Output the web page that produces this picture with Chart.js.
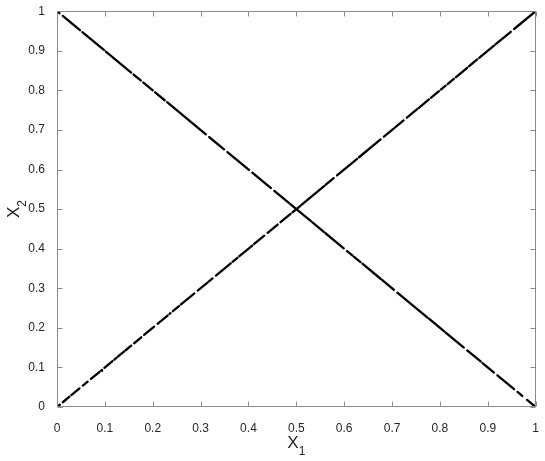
<!DOCTYPE html>
<html>
<head>
<meta charset="utf-8">
<script src="https://cdn.jsdelivr.net/npm/chart.js@4/dist/chart.umd.min.js"></script>
<style>
  html, body { margin: 0; padding: 0; background: #fff; }
  #wrap { width: 545px; height: 461px; }
</style>
</head>
<body>
<div id="wrap"><canvas id="chart" width="545" height="461"></canvas></div>
<script>
// --- DATOS (extremos de cada tramo visible) ---
const xTickValues = [0, 0.1, 0.2, 0.3, 0.4, 0.5, 0.6, 0.7, 0.8, 0.9, 1];
const xTickLabels = ['0', '0.1', '0.2', '0.3', '0.4', '0.5', '0.6', '0.7', '0.8', '0.9', '1'];
const yTickValues = [0, 0.1, 0.2, 0.3, 0.4, 0.5, 0.6, 0.7, 0.8, 0.9, 1];
const yTickLabels = ['0', '0.1', '0.2', '0.3', '0.4', '0.5', '0.6', '0.7', '0.8', '0.9', '1'];

// línea ascendente
const upX = [0, 0.006, 0.012, 0.026, 0.030, 0.047, 0.054, 0.064, 0.071, 0.089, 0.092, 0.094,
  0.099, 0.116, 0.120, 0.124, 0.127, 0.141, 0.144, 0.155, 0.161, 0.176, 0.182, 0.203,
  0.210, 0.231, 0.235, 0.237, 0.242, 0.255, 0.259, 0.287, 0.294, 0.315, 0.318, 0.325,
  0.332, 0.363, 0.367, 0.377, 0.381, 0.408, 0.412, 0.433, 0.440, 0.461, 0.467, 0.488,
  0.492, 0.509, 0.512, 0.558, 0.561, 0.578, 0.585, 0.627, 0.631, 0.676, 0.683, 0.704,
  0.707, 0.724, 0.731, 0.753, 0.756, 0.777, 0.781, 0.798, 0.802, 0.812, 0.816, 0.829,
  0.833, 0.857, 0.861, 0.878, 0.882, 0.913, 0.916, 0.948, 0.955, 1.0];
const upY = [0, 0.006, 0.012, 0.026, 0.030, 0.047, 0.054, 0.064, 0.071, 0.089, 0.092, 0.094,
  0.099, 0.116, 0.120, 0.124, 0.127, 0.141, 0.144, 0.155, 0.161, 0.176, 0.182, 0.203,
  0.210, 0.231, 0.235, 0.237, 0.242, 0.255, 0.259, 0.287, 0.294, 0.315, 0.318, 0.325,
  0.332, 0.363, 0.367, 0.377, 0.381, 0.408, 0.412, 0.433, 0.440, 0.461, 0.467, 0.488,
  0.492, 0.509, 0.512, 0.558, 0.561, 0.578, 0.585, 0.627, 0.631, 0.676, 0.683, 0.704,
  0.707, 0.724, 0.731, 0.753, 0.756, 0.777, 0.781, 0.798, 0.802, 0.812, 0.816, 0.829,
  0.833, 0.857, 0.861, 0.878, 0.882, 0.913, 0.916, 0.948, 0.955, 1.0];

// línea descendente
const downX = [0, 0.005, 0.012, 0.048, 0.053, 0.098, 0.102, 0.155, 0.160, 0.175, 0.180, 0.200,
  0.205, 0.225, 0.230, 0.311, 0.318, 0.349, 0.356, 0.401, 0.408, 0.447, 0.454, 0.485,
  0.488, 0.530, 0.533, 0.558, 0.561, 0.599, 0.606, 0.617, 0.620, 0.634, 0.638, 0.676,
  0.679, 0.704, 0.711, 0.774, 0.777, 0.809, 0.812, 0.850, 0.857, 0.885, 0.889, 0.913,
  0.920, 0.955, 0.962, 0.972, 0.982, 1.0];
const downY = [1, 0.995, 0.988, 0.952, 0.947, 0.902, 0.898, 0.845, 0.840, 0.825, 0.820, 0.800,
  0.795, 0.775, 0.770, 0.689, 0.682, 0.651, 0.644, 0.599, 0.592, 0.553, 0.546, 0.515,
  0.512, 0.470, 0.467, 0.442, 0.439, 0.401, 0.394, 0.383, 0.380, 0.366, 0.362, 0.324,
  0.321, 0.296, 0.289, 0.226, 0.223, 0.191, 0.188, 0.150, 0.143, 0.115, 0.111, 0.087,
  0.080, 0.045, 0.038, 0.028, 0.018, 0];

const FONT = '"Liberation Sans", Arial, Helvetica, sans-serif';
const AXIS_GRAY = '#8a8a8a';
const TEXT_COLOR = '#262626';

function toPoints(xs, ys) {
    return xs.map((x, i) => ({ x, y: ys[i] }));
}

// solo se pintan los tramos pares (inicio -> fin); los impares son huecos
const gapSegment = {
    borderColor: ctx => (ctx.p0DataIndex % 2 === 0 ? '#000' : 'rgba(0,0,0,0)')
};

// --- MARCO, TICKS HACIA DENTRO Y ETIQUETAS DE EJE ---
const framePlugin = {
    id: 'frame',
    afterDraw(chart) {
        const { ctx, chartArea, scales } = chart;
        const l = Math.round(chartArea.left) + 0.5;
        const r = Math.round(chartArea.right) - 0.5;
        const t = Math.round(chartArea.top) + 0.5;
        const b = Math.round(chartArea.bottom) - 0.5;
        const tick = 5;

        ctx.save();
        ctx.strokeStyle = AXIS_GRAY;
        ctx.lineWidth = 1;
        ctx.strokeRect(l, t, r - l, b - t);

        ctx.beginPath();
        xTickValues.forEach(v => {
            const px = Math.round(scales.x.getPixelForValue(v)) + 0.5;
            ctx.moveTo(px, b); ctx.lineTo(px, b - tick);
            ctx.moveTo(px, t); ctx.lineTo(px, t + tick);
        });
        yTickValues.forEach(v => {
            const py = Math.round(scales.y.getPixelForValue(v)) + 0.5;
            ctx.moveTo(l, py); ctx.lineTo(l + tick, py);
            ctx.moveTo(r, py); ctx.lineTo(r - tick, py);
        });
        ctx.stroke();

        // títulos con subíndice
        ctx.fillStyle = TEXT_COLOR;
        ctx.textBaseline = 'alphabetic';
        ctx.textAlign = 'left';
        const big = '17px ' + FONT;
        const small = '12px ' + FONT;

        ctx.font = big;
        const wX = ctx.measureText('X').width;
        ctx.font = small;
        const w1 = ctx.measureText('1').width;
        const cx = (chartArea.left + chartArea.right) / 2;
        let sx = cx - (wX + w1) / 2;
        ctx.font = big;
        ctx.fillText('X', sx, 448);
        ctx.font = small;
        ctx.fillText('1', sx + wX, 455);

        const cy = (chartArea.top + chartArea.bottom) / 2;
        ctx.font = small;
        const w2 = ctx.measureText('2').width;
        ctx.translate(19, cy);
        ctx.rotate(-Math.PI / 2);
        sx = -(wX + w2) / 2;
        ctx.font = big;
        ctx.fillText('X', sx, 0);
        ctx.font = small;
        ctx.fillText('2', sx + wX, 7);
        ctx.restore();
    }
};

new Chart(document.getElementById('chart'), {
    type: 'scatter',
    data: {
        datasets: [
            {
                label: 'up',
                data: toPoints(upX, upY),
                showLine: true,
                borderColor: '#000',
                borderWidth: 2.3,
                borderCapStyle: 'round',
                pointRadius: 0,
                segment: gapSegment
            },
            {
                label: 'down',
                data: toPoints(downX, downY),
                showLine: true,
                borderColor: '#000',
                borderWidth: 2.3,
                borderCapStyle: 'round',
                pointRadius: 0,
                segment: gapSegment
            }
        ]
    },
    options: {
        responsive: false,
        animation: false,
        layout: { padding: { left: 0, top: 7, right: 8, bottom: 0 } },
        plugins: {
            legend: { display: false },
            tooltip: { enabled: false }
        },
        scales: {
            x: {
                type: 'linear',
                min: 0,
                max: 1,
                afterFit: s => { s.height = 54; },
                afterBuildTicks: s => { s.ticks = xTickValues.map(v => ({ value: v })); },
                grid: { display: false },
                border: { display: false },
                ticks: {
                    padding: 6,
                    color: TEXT_COLOR,
                    font: { family: FONT, size: 12 },
                    maxRotation: 0,
                    autoSkip: false,
                    callback: (v, i) => xTickLabels[i]
                }
            },
            y: {
                type: 'linear',
                min: 0,
                max: 1,
                afterFit: s => { s.width = 57; },
                afterBuildTicks: s => { s.ticks = yTickValues.map(v => ({ value: v })); },
                grid: { display: false },
                border: { display: false },
                ticks: {
                    padding: 4,
                    color: TEXT_COLOR,
                    font: { family: FONT, size: 12 },
                    autoSkip: false,
                    callback: (v, i) => yTickLabels[i]
                }
            }
        }
    },
    plugins: [framePlugin]
});
</script>
</body>
</html>
